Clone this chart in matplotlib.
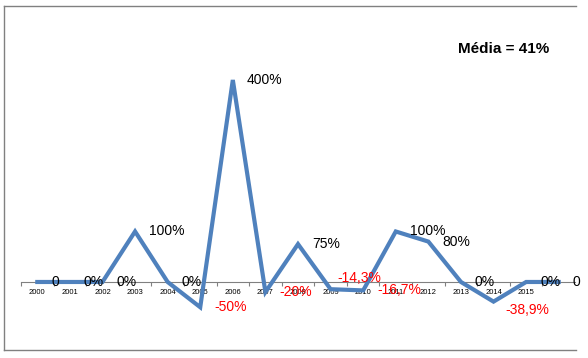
import matplotlib
matplotlib.use("Agg")
import matplotlib.pyplot as plt
from matplotlib.lines import Line2D

plt.rcParams["font.family"] = ["Liberation Sans", "DejaVu Sans"]

# Data
years = list(range(2000, 2017))
values = [0, 0, 0, 100, 0, -50, 400, -20, 75, -14.3, -16.7, 100, 80, 0, -38.9, 0, 0]
labels = ["0", "0%", "0%", "100%", "0%", "-50%", "400%", "-20%", "75%",
          "-14,3%", "-16,7%", "100%", "80%", "0%", "-38,9%", "0%", "0"]
tick_years = [str(y) for y in years[:16]]
title = "Média = 41%"

W, H = 588, 358
fig = plt.figure(figsize=(W / 100, H / 100), dpi=100)

# axes region in pixels: x 21..575, y 6..350
ax = fig.add_axes([21 / W, (H - 350) / H, (575 - 21) / W, (350 - 6) / H])
ax.set_xlim(-0.5, 16.5)
ax.set_ylim(-134.7, 546.5)

x = list(range(len(years)))
ax.plot(x, values, color="#4F81BD", lw=3.0, solid_joinstyle="miter", zorder=3)

# a couple of labels sit a bit off the usual spot in the original
nudge = {9: (5, 8), 14: (8.5, -6)}
for xi, v, lab in zip(x, values, labels):
    col = "#FF0000" if v < 0 else "black"
    ax.annotate(lab, (xi, v), xytext=nudge.get(xi, (10, 0)), textcoords="offset points",
                ha="left", va="center", fontsize=10, color=col,
                annotation_clip=False, zorder=4)

for s in ["left", "right", "top"]:
    ax.spines[s].set_visible(False)
ax.spines["bottom"].set_position(("data", 0))
ax.spines["bottom"].set_color("#808080")
ax.spines["bottom"].set_linewidth(0.8)
ax.set_yticks([])
ax.set_xticks(range(16))
ax.set_xticklabels(tick_years, fontsize=5.5)
ax.tick_params(axis="x", length=0, pad=5)
ax.set_xticks([i - 0.5 for i in range(17)], minor=True)
ax.tick_params(axis="x", which="minor", length=3, color="#808080", width=0.8)
ax.patch.set_alpha(0)

# outer chart frame (left, top, bottom)
fig.add_artist(Line2D([4 / W, 576 / W], [(H - 6) / H, (H - 6) / H], transform=fig.transFigure, color="#808080", lw=1))
fig.add_artist(Line2D([4 / W, 4 / W], [(H - 6) / H, (H - 350) / H], transform=fig.transFigure, color="#808080", lw=1))
fig.add_artist(Line2D([4 / W, 576 / W], [(H - 350) / H, (H - 350) / H], transform=fig.transFigure, color="#808080", lw=1))

fig.text(504 / W, (H - 49) / H, title, ha="center", va="center", fontsize=11, fontweight="bold")

fig.savefig("out.png", dpi=100)
